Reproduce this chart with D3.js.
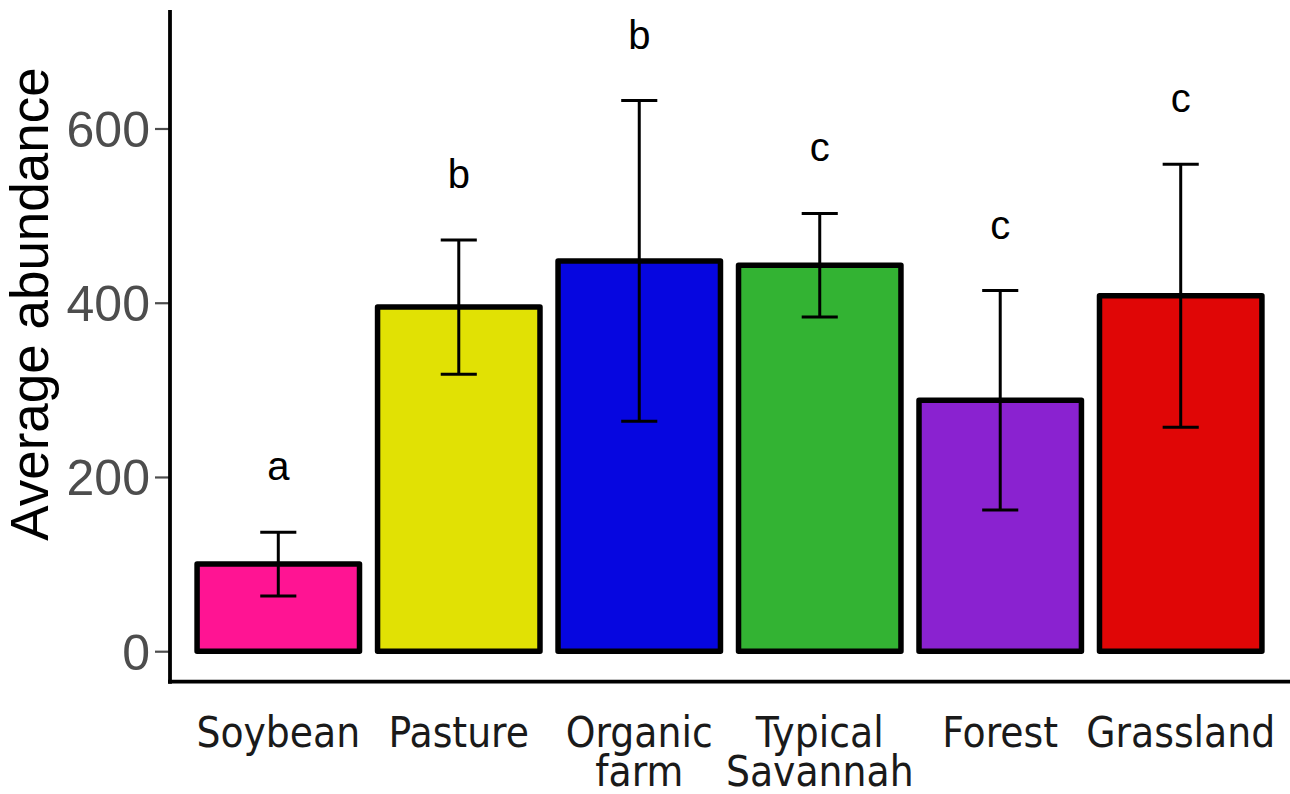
<!DOCTYPE html>
<html>
<head>
<meta charset="utf-8">
<script src="https://cdn.jsdelivr.net/npm/d3@7"></script>
<style>
  html, body { margin: 0; padding: 0; background: #ffffff; }
  svg { display: block; }
</style>
</head>
<body>
<script>
// Average abundance per land-use type, with error bars and group letters
const categories = ["Soybean", "Pasture", "Organic farm", "Typical Savannah", "Forest", "Grassland"];
const categoryLines = [["Soybean"], ["Pasture"], ["Organic", "farm"], ["Typical", "Savannah"], ["Forest"], ["Grassland"]];
const means = [100, 395, 448, 443, 288, 408];
const errors = [36.5, 77, 184, 59.5, 126, 151];
const letters = ["a", "b", "b", "c", "c", "c"];
const fills = ["#FF1493", "#E1E104", "#0606E0", "#33B333", "#8A22D0", "#E00606"];
const yTicks = [0, 200, 400, 600];

const W = 1290, H = 794;
const panel = { left: 170, right: 1289, top: 10, bottom: 681.7 };

const rows = categories.map((c, i) => ({
  cat: c, lines: categoryLines[i], mean: means[i], err: errors[i], letter: letters[i], fill: fills[i]
}));

const svg = d3.select("body").append("svg").attr("width", W).attr("height", H);

const x = d3.scaleBand()
  .domain(categories)
  .range([panel.left, panel.right])
  .paddingInner(0.1)
  .paddingOuter(0.15);

const y = d3.scaleLinear()
  .domain([-35, 736])
  .range([panel.bottom, panel.top]);

// Bars
svg.append("g").selectAll("rect")
  .data(rows)
  .join("rect")
  .attr("x", d => x(d.cat))
  .attr("width", x.bandwidth())
  .attr("y", d => y(d.mean))
  .attr("height", d => y(0) - y(d.mean))
  .attr("fill", d => d.fill)
  .attr("stroke", "#000")
  .attr("stroke-width", 5.5)
  .attr("stroke-linejoin", "round");

// Error bars
const capW = x.step() * 0.2;
const eb = svg.append("g").attr("stroke", "#000").attr("stroke-width", 3).attr("fill", "none");
rows.forEach(d => {
  const cx = x(d.cat) + x.bandwidth() / 2;
  const g = eb.append("g");
  g.append("line").attr("x1", cx).attr("x2", cx).attr("y1", y(d.mean + d.err)).attr("y2", y(d.mean - d.err));
  g.append("line").attr("x1", cx - capW / 2).attr("x2", cx + capW / 2).attr("y1", y(d.mean + d.err)).attr("y2", y(d.mean + d.err));
  g.append("line").attr("x1", cx - capW / 2).attr("x2", cx + capW / 2).attr("y1", y(d.mean - d.err)).attr("y2", y(d.mean - d.err));
});

// Group letters above error bars
svg.append("g").selectAll("text")
  .data(rows)
  .join("text")
  .attr("x", d => x(d.cat) + x.bandwidth() / 2)
  .attr("y", d => y(d.mean + d.err) - 52)
  .attr("text-anchor", "middle")
  .attr("font-family", "'Liberation Sans', Arial, sans-serif")
  .attr("font-size", 40)
  .attr("fill", "#000")
  .text(d => d.letter);

// Y axis
const yAxis = svg.append("g")
  .attr("transform", `translate(${panel.left},0)`)
  .call(d3.axisLeft(y).tickValues(yTicks).tickSize(15).tickPadding(5).tickFormat(d3.format("d")));
yAxis.select(".domain").remove();
yAxis.selectAll(".tick line").attr("stroke", "#4d4d4d").attr("stroke-width", 2.2);
yAxis.selectAll(".tick text")
  .attr("font-family", "'Liberation Sans', Arial, sans-serif")
  .attr("font-size", 50)
  .attr("fill", "#4d4d4d")
  .attr("dy", "0.36em");

// X axis
const xAxis = svg.append("g")
  .attr("transform", `translate(0,${panel.bottom})`)
  .call(d3.axisBottom(x).tickSize(0).tickFormat(() => ""));
xAxis.select(".domain").remove();
xAxis.selectAll(".tick text").remove();
xAxis.selectAll(".tick").append("text")
  .attr("text-anchor", "middle")
  .attr("font-family", "'DejaVu Sans Condensed', 'DejaVu Sans', sans-serif")
  .attr("font-stretch", "condensed")
  .attr("font-size", 42)
  .attr("fill", "#1a1a1a")
  .each(function(c) {
    const lines = categoryLines[categories.indexOf(c)];
    const t = d3.select(this);
    lines.forEach((ln, k) => {
      t.append("tspan").attr("x", 0).attr("y", 65 + k * 39).text(ln);
    });
  });

// Axis lines
svg.append("line")
  .attr("x1", panel.left).attr("x2", panel.left)
  .attr("y1", panel.top).attr("y2", panel.bottom + 2)
  .attr("stroke", "#000").attr("stroke-width", 3.8);
svg.append("line")
  .attr("x1", panel.left - 2).attr("x2", W)
  .attr("y1", panel.bottom).attr("y2", panel.bottom)
  .attr("stroke", "#000").attr("stroke-width", 3.8);

// Y axis title
svg.append("text")
  .attr("transform", `translate(48,304) rotate(-90)`)
  .attr("text-anchor", "middle")
  .attr("font-family", "'Liberation Sans', Arial, sans-serif")
  .attr("font-size", 53)
  .attr("fill", "#000")
  .text("Average abundance");
</script>
</body>
</html>
